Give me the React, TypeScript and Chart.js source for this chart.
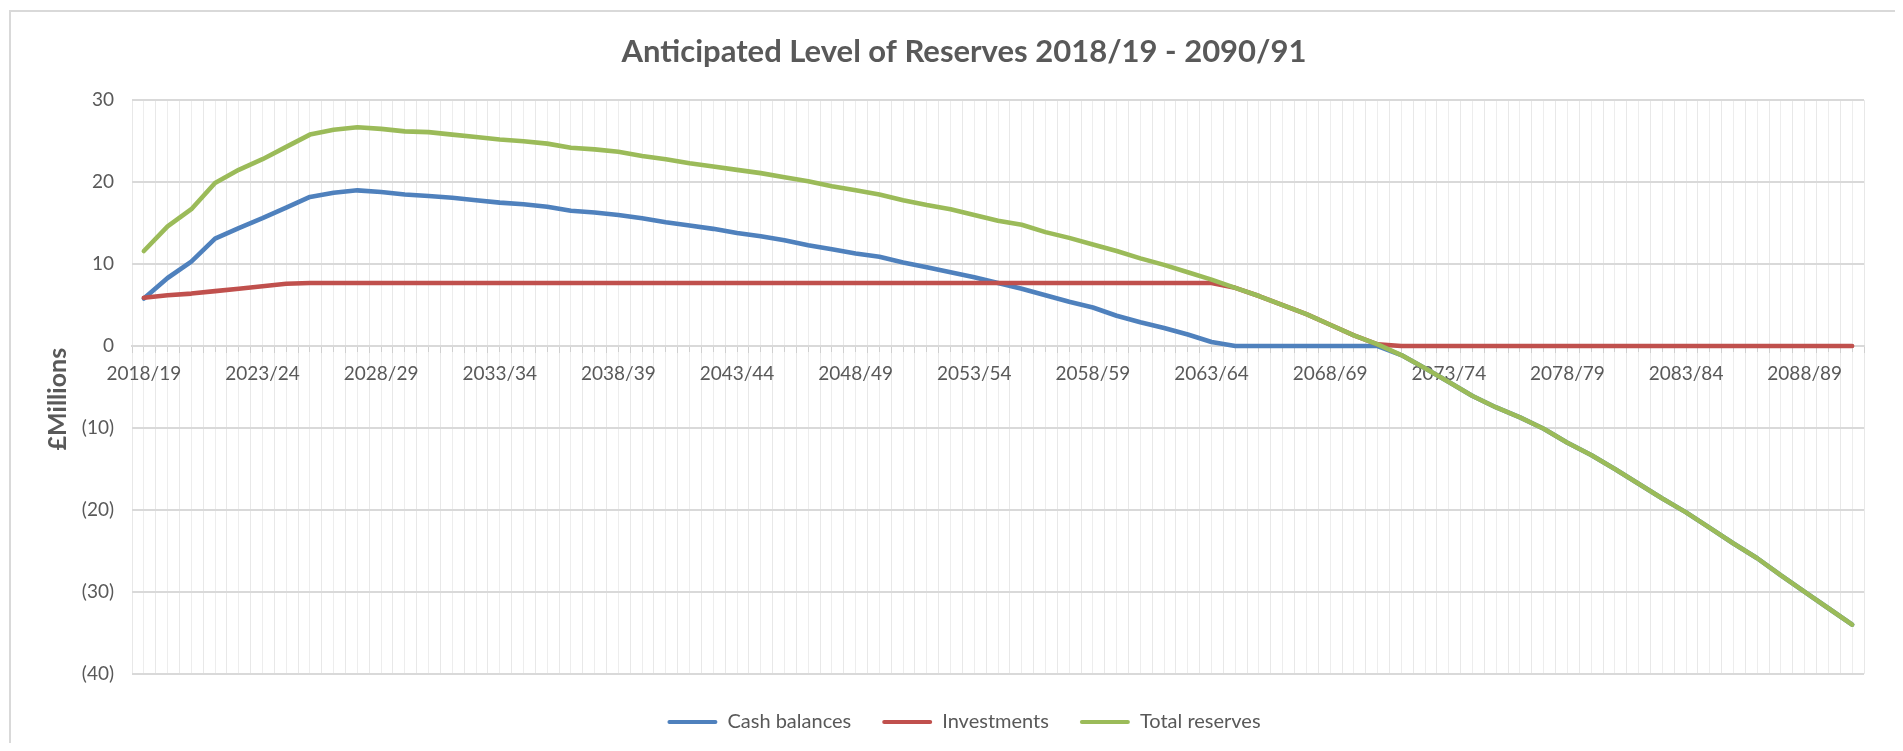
import React, { useEffect, useRef } from "react";
import { Chart, registerables } from "chart.js";

Chart.register(...registerables);

const categories = [
  "2018/19", "2019/20", "2020/21", "2021/22", "2022/23", "2023/24", "2024/25", "2025/26", "2026/27", "2027/28",
  "2028/29", "2029/30", "2030/31", "2031/32", "2032/33", "2033/34", "2034/35", "2035/36", "2036/37", "2037/38",
  "2038/39", "2039/40", "2040/41", "2041/42", "2042/43", "2043/44", "2044/45", "2045/46", "2046/47", "2047/48",
  "2048/49", "2049/50", "2050/51", "2051/52", "2052/53", "2053/54", "2054/55", "2055/56", "2056/57", "2057/58",
  "2058/59", "2059/60", "2060/61", "2061/62", "2062/63", "2063/64", "2064/65", "2065/66", "2066/67", "2067/68",
  "2068/69", "2069/70", "2070/71", "2071/72", "2072/73", "2073/74", "2074/75", "2075/76", "2076/77", "2077/78",
  "2078/79", "2079/80", "2080/81", "2081/82", "2082/83", "2083/84", "2084/85", "2085/86", "2086/87", "2087/88",
  "2088/89", "2089/90", "2090/91",
];

const tickLabelEvery = 5;

const cashBalances = [
  5.8, 8.3, 10.3, 13.1, 14.4, 15.6, 16.9, 18.2, 18.7, 19.0,
  18.8, 18.5, 18.3, 18.1, 17.8, 17.5, 17.3, 17.0, 16.5, 16.3,
  16.0, 15.6, 15.1, 14.7, 14.3, 13.8, 13.4, 12.9, 12.3, 11.8,
  11.3, 10.9, 10.2, 9.6, 9.0, 8.4, 7.7, 7.0, 6.2, 5.4,
  4.7, 3.7, 2.9, 2.2, 1.4, 0.5, 0, 0, 0, 0,
  0, 0, 0, -1.1, -2.7, -4.4, -6.1, -7.5, -8.7, -10.1,
  -11.8, -13.3, -15.0, -16.8, -18.6, -20.3, -22.2, -24.1, -25.9, -28.0,
  -30.0, -32.0, -34.0,
];

const investments = [
  5.9, 6.2, 6.4, 6.7, 7.0, 7.3, 7.6, 7.7, 7.7, 7.7,
  7.7, 7.7, 7.7, 7.7, 7.7, 7.7, 7.7, 7.7, 7.7, 7.7,
  7.7, 7.7, 7.7, 7.7, 7.7, 7.7, 7.7, 7.7, 7.7, 7.7,
  7.7, 7.7, 7.7, 7.7, 7.7, 7.7, 7.7, 7.7, 7.7, 7.7,
  7.7, 7.7, 7.7, 7.7, 7.7, 7.7, 7.1, 6.1, 5.0, 3.9,
  2.6, 1.3, 0.2, 0, 0, 0, 0, 0, 0, 0,
  0, 0, 0, 0, 0, 0, 0, 0, 0, 0,
  0, 0, 0,
];

const totalReserves = [
  11.6, 14.6, 16.7, 19.9, 21.5, 22.8, 24.3, 25.8, 26.4, 26.7,
  26.5, 26.2, 26.1, 25.8, 25.5, 25.2, 25.0, 24.7, 24.2, 24.0,
  23.7, 23.2, 22.8, 22.3, 21.9, 21.5, 21.1, 20.6, 20.1, 19.5,
  19.0, 18.5, 17.8, 17.2, 16.7, 16.0, 15.3, 14.8, 13.9, 13.2,
  12.4, 11.6, 10.7, 9.9, 9.0, 8.1, 7.1, 6.1, 5.0, 3.9,
  2.6, 1.3, 0.2, -1.1, -2.7, -4.4, -6.1, -7.5, -8.7, -10.1,
  -11.8, -13.3, -15.0, -16.8, -18.6, -20.3, -22.2, -24.1, -25.9, -28.0,
  -30.0, -32.0, -34.0,
];

const yMin = -40;
const yMax = 30;
const yStep = 10;

const titleText = "Anticipated Level of Reserves 2018/19 - 2090/91";
const yTitleText = "£Millions";
const seriesNames = ["Cash balances", "Investments", "Total reserves"];

const BLUE = "#4F81BD";
const RED = "#C0504D";
const GREEN = "#9BBB59";
const TEXT = "#595959";
const FONT = "Lato, 'Open Sans', sans-serif";

const W = 1887;
const H = 735;

export default function App() {
  const ref = useRef<HTMLCanvasElement>(null);

  useEffect(() => {
    const canvas = ref.current;
    if (!canvas) return;
    const chart = new Chart(canvas, {
      type: "line",
      data: {
        labels: categories,
        datasets: [
          { label: seriesNames[0], data: cashBalances, borderColor: BLUE, backgroundColor: BLUE, xAxisID: "x", yAxisID: "y", order: 3 },
          { label: seriesNames[1], data: investments, borderColor: RED, backgroundColor: RED, xAxisID: "x", yAxisID: "y", order: 2 },
          { label: seriesNames[2], data: totalReserves, borderColor: GREEN, backgroundColor: GREEN, xAxisID: "x", yAxisID: "y", order: 1 },
        ],
      },
      options: {
        responsive: false,
        animation: false,
        devicePixelRatio: 1,
        events: [],
        layout: { padding: { left: 56, right: 31, top: 0, bottom: 1 } },
        elements: {
          line: { borderWidth: 4.6, tension: 0, borderJoinStyle: "round", borderCapStyle: "round", fill: false },
          point: { radius: 0, hoverRadius: 0 },
        },
        scales: {
          x: {
            type: "category",
            axis: "x",
            offset: true,
            position: { y: 0 },
            grid: { offset: true, color: "#e8e8e8", tickColor: "#d0d0d0", tickLength: 6, lineWidth: 1 },
            border: { display: true, color: "#d9d9d9", width: 2 },
            ticks: {
              autoSkip: false,
              maxRotation: 0,
              minRotation: 0,
              padding: 10,
              color: TEXT,
              font: { family: FONT, size: 19 },
              callback: (_v: any, i: number) => (i % tickLabelEvery === 0 ? categories[i] : ""),
            },
          },
          x2: {
            type: "category",
            axis: "x",
            offset: true,
            position: { y: 0 },
            grid: { offset: false, color: "#ededed", tickColor: "#d0d0d0", tickLength: 6, lineWidth: 1 },
            border: { display: false },
            ticks: { display: false },
          },
          y: {
            type: "linear",
            position: "left",
            min: yMin,
            max: yMax,
            ticks: {
              stepSize: yStep,
              padding: 18,
              color: TEXT,
              font: { family: FONT, size: 19 },
              callback: (v: any) => (Number(v) < 0 ? `(${-Number(v)})` : `${v}`),
            },
            grid: { color: "#d9d9d9", lineWidth: 2, drawTicks: false },
            border: { display: false },
            title: {
              display: true,
              text: yTitleText + "    ",
              color: TEXT,
              font: { family: FONT, size: 25, weight: "bold" },
              padding: { top: -21, bottom: 0 },
            },
            afterFit: (s: any) => {
              s.width = 68;
            },
          },
        },
        plugins: {
          title: {
            display: true,
            text: titleText,
            color: TEXT,
            font: { family: FONT, size: 31, weight: "bold" },
            padding: { top: 25, bottom: 30 },
          },
          legend: {
            position: "bottom",
            title: { display: true, text: "", padding: 0, font: { size: 6 } },
            labels: {
              boxWidth: 50,
              boxHeight: 4,
              padding: 31,
              color: TEXT,
              font: { family: FONT, size: 20 },
              useBorderRadius: true,
              borderRadius: 2,
              sort: (a: any, b: any) => a.datasetIndex - b.datasetIndex,
              generateLabels: (c: any) =>
                Chart.defaults.plugins.legend.labels
                  .generateLabels(c)
                  .map((l: any) => ({ ...l, fillStyle: l.strokeStyle, lineWidth: 0 })),
            },
          },
          tooltip: { enabled: false },
        },
      } as any,
    });
    return () => chart.destroy();
  }, []);

  return (
    <div style={{ position: "relative", width: W, height: H, overflow: "hidden" }}>
      <canvas ref={ref} width={W} height={H} style={{ display: "block", width: W, height: H }} />
      <div
        style={{
          position: "absolute",
          left: 1,
          top: 2,
          width: W + 20,
          height: H + 20,
          borderTop: "2px solid #d9d9d9",
          borderLeft: "2px solid #d9d9d9",
          pointerEvents: "none",
        }}
      />
    </div>
  );
}
